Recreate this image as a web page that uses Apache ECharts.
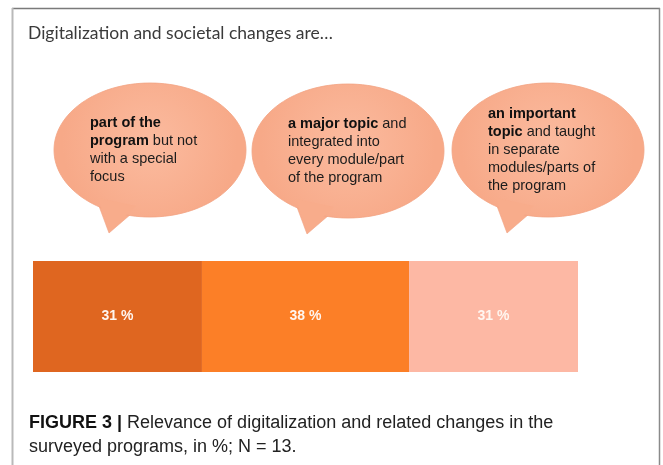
<!DOCTYPE html>
<html>
<head>
<meta charset="utf-8">
<title>Relevance of digitalization</title>
<script src="https://cdn.jsdelivr.net/npm/echarts@6/dist/echarts.min.js"></script>
<style>
  html, body { margin: 0; padding: 0; background: #ffffff; }
  #chart { width: 663px; height: 465px; }
</style>
</head>
<body>
<div id="chart"></div>
<script>
// Answer categories (one per bar segment / speech bubble)
const categories = [
  'part of the program but not with a special focus',
  'a major topic and integrated into every module/part of the program',
  'an important topic and taught in separate modules/parts of the program'
];
// Share of surveyed programs, in %
const shares = [31, 38, 31];
// Bubble wording, bold lead-in marked with {b|...}
const bubbleTexts = [
  '{b|part of the}\n{b|program} but not\nwith a special\nfocus',
  '{b|a major topic} and\nintegrated into\nevery module/part\nof the program',
  '{b|an important}\n{b|topic} and taught\nin separate\nmodules/parts of\nthe program'
];
const headline = 'Digitalization and societal changes are\u2026';
const captionLines = [
  ['FIGURE 3 |', ' Relevance of digitalization and related changes in the'],
  ['', 'surveyed programs, in %; N = 13.']
];

const segmentColors = ['#df6620', '#fc7f27', '#fdb8a4'];
const bubbleCenters = [[150, 150], [348, 151], [548, 150]];

const chart = echarts.init(document.getElementById('chart'), null, { renderer: 'canvas' });

// Speech bubble: ellipse plus a tail pointing down-left
function bubble(cx, cy, text) {
  const fill = {
    type: 'radial', x: 0.5, y: 0.45, r: 0.65,
    colorStops: [
      { offset: 0, color: '#fbbb9f' },
      { offset: 1, color: '#f7a988' }
    ]
  };
  return {
    type: 'group',
    children: [
      {
        type: 'polygon',
        shape: { points: [[cx - 54, cy + 48], [cx - 41, cy + 83], [cx - 12, cy + 58]] },
        style: { fill: '#f8ac8b', stroke: '#f2a181', lineWidth: 0.6 }
      },
      {
        type: 'ellipse',
        shape: { cx: cx, cy: cy, rx: 96, ry: 67 },
        style: { fill: fill, stroke: '#f3a383', lineWidth: 0.8 }
      },
      {
        type: 'polygon',
        shape: { points: [[cx - 52, cy + 48], [cx - 41, cy + 81], [cx - 14, cy + 56]] },
        style: { fill: '#f8ac8b' }
      },
      {
        type: 'text',
        x: cx - 60,
        y: cy,
        style: {
          text: text,
          fill: '#1c1c1c',
          font: '14.5px "Liberation Sans", Arial, sans-serif',
          lineHeight: 18,
          verticalAlign: 'middle',
          align: 'left',
          rich: {
            b: { fontWeight: 'bold', fontSize: 14.5, fontFamily: '"Liberation Sans", Arial, sans-serif', lineHeight: 18, fill: '#111' }
          }
        }
      }
    ]
  };
}

const graphics = [
  // frame
  { type: 'line', shape: { x1: 12, y1: 8.5, x2: 660, y2: 8.5 }, style: { stroke: '#7a7a7a', lineWidth: 1.5 } },
  { type: 'line', shape: { x1: 12.5, y1: 8, x2: 12.5, y2: 465 }, style: { stroke: '#b9b9b9', lineWidth: 2 } },
  { type: 'line', shape: { x1: 659.5, y1: 8, x2: 659.5, y2: 465 }, style: { stroke: '#8a8a8a', lineWidth: 1.5 } },
  // headline
  {
    type: 'text', x: 28, y: 33,
    style: {
      text: headline, fill: '#3a3a3a',
      font: '17.5px Lato, "Open Sans", sans-serif',
      verticalAlign: 'middle'
    }
  }
];

bubbleCenters.forEach(function (c, i) {
  graphics.push(bubble(c[0], c[1], bubbleTexts[i]));
});

captionLines.forEach(function (line, i) {
  graphics.push({
    type: 'text', x: 29, y: 423 + i * 24,
    style: {
      text: (line[0] ? '{b|' + line[0] + '}' : '') + line[1],
      fill: '#222',
      font: '18px "Liberation Sans", Arial, sans-serif',
      verticalAlign: 'middle',
      rich: {
        b: { fontWeight: 'bold', fontSize: 18, fontFamily: '"Liberation Sans", Arial, sans-serif', fill: '#111' }
      }
    }
  });
});

const option = {
  animation: false,
  backgroundColor: '#ffffff',
  grid: { left: 33, top: 261, width: 545, height: 111, containLabel: false },
  xAxis: { type: 'value', min: 0, max: 100, show: false },
  yAxis: { type: 'category', data: ['programs'], show: false },
  series: shares.map(function (v, i) {
    return {
      type: 'bar',
      name: categories[i],
      stack: 'total',
      data: [v],
      barWidth: '100%',
      itemStyle: { color: segmentColors[i] },
      label: {
        show: true,
        position: 'inside',
        formatter: '{c} %',
        color: '#fff6f0',
        fontSize: 14,
        fontWeight: 'bold',
        fontFamily: '"Liberation Sans", Arial, sans-serif'
      }
    };
  }),
  graphic: graphics
};

chart.setOption(option);
</script>
</body>
</html>
